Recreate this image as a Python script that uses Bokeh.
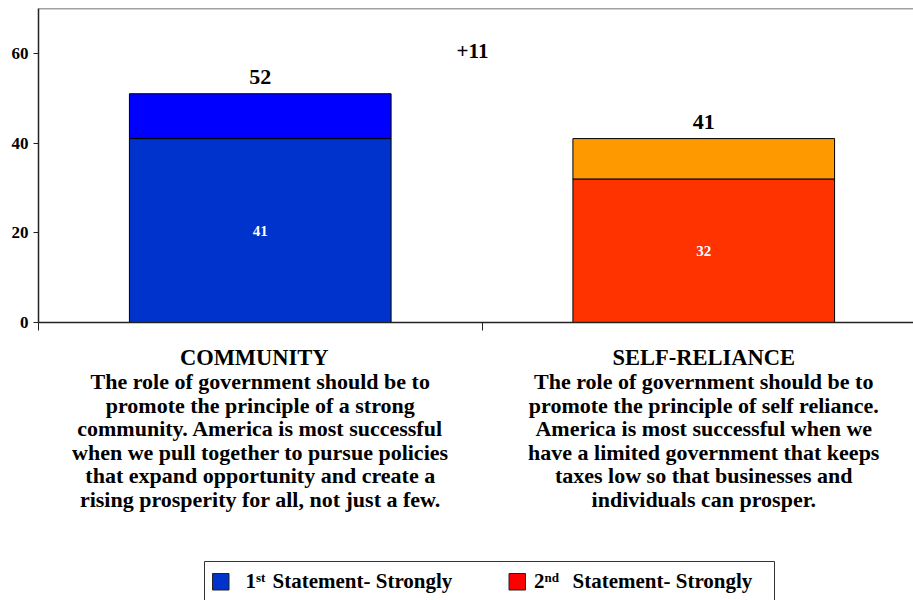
from bokeh.plotting import figure
from bokeh.layouts import column
from bokeh.models import Range1d, FixedTicker, Span, Label, ColumnDataSource
from bokeh.core.properties import value
from bokeh.embed import file_html
from bokeh.resources import INLINE

# ---- data ----
categories = ["COMMUNITY", "SELF-RELIANCE"]
descriptions = [
    ["The role of government should be to",
     "promote the principle of a strong",
     "community. America is most successful",
     "when we pull together to pursue policies",
     "that expand opportunity and create a",
     "rising prosperity for all, not just a few."],
    ["The role of government should be to",
     "promote the principle of self reliance.",
     "America is most successful when we",
     "have a limited government that keeps",
     "taxes low so that businesses and",
     "individuals can prosper."],
]
strongly = [41, 32]          # "strongly" share
total = [51, 41]             # total bar height as drawn
total_shown = [52, 41]       # labels printed above bars
y_ticks = [0, 20, 40, 60]
strong_colors = ["#0033CC", "#FF3300"]
rest_colors = ["#0000FF", "#FF9900"]
legend_nums = ["1", "2"]
legend_sups = ["st", "nd"]
legend_texts = ["Statement- Strongly", "Statement- Strongly"]
legend_colors = ["#0033CC", "#FF0000"]

FONT = "Liberation Serif"
W = 913
H1, H2 = 340, 260
L, T = 38, 8
frame_bottom = 322
B = H1 - frame_bottom
frame_h = frame_bottom - T
y_max = 70
cat_px = 443.5
x_range = Range1d(0, (W - L) / cat_px)

p = figure(width=W, height=H1, output_backend="svg", toolbar_location=None,
           x_range=x_range, y_range=Range1d(0, y_max),
           min_border_left=L, min_border_right=0, min_border_top=T, min_border_bottom=B)
p.outline_line_color = None
p.grid.visible = False

px_per_unit = frame_h / y_max

def sy(screen_y):
    return (frame_bottom - screen_y) / px_per_unit

def sx(screen_x):
    return (screen_x - L) / cat_px

xs = [i + 0.5 for i in range(len(categories))]
src = ColumnDataSource(dict(x=xs, strong=strongly, total=total,
                            sc=strong_colors, rc=rest_colors,
                            mid=[s / 2 for s in strongly],
                            lab_y=[t + 16.5 / px_per_unit for t in total],
                            top_lab=[str(v) for v in total_shown],
                            in_lab=[str(v) for v in strongly]))
p.vbar(x="x", width=0.59, bottom=0, top="strong", fill_color="sc", line_color="black", line_width=1, source=src)
p.vbar(x="x", width=0.59, bottom="strong", top="total", fill_color="rc", line_color="black", line_width=1, source=src)

p.text(x="x", y="lab_y", text="top_lab", source=src, text_font=value(FONT), text_font_style="bold",
       text_font_size="22px", text_color="black", text_align="center", text_baseline="middle")
p.text(x="x", y="mid", text="in_lab", source=src, text_font=value(FONT), text_font_style="bold",
       text_font_size="15px", text_color="white", text_align="center", text_baseline="middle")

diff = total_shown[0] - total_shown[1]
p.add_layout(Label(x=sx(472), y=sy(50), text=f"+{diff}", text_font=FONT, text_font_style="bold",
                   text_font_size="21px", text_color="black", text_align="center", text_baseline="middle"))

# axes
p.yaxis.ticker = FixedTicker(ticks=y_ticks)
p.yaxis.minor_tick_line_color = None
p.yaxis.major_tick_in = 0
p.yaxis.major_tick_out = 5
p.yaxis.axis_line_width = 1.5
p.yaxis.major_label_text_font = FONT
p.yaxis.major_label_text_font_style = "bold"
p.yaxis.major_label_text_font_size = "17px"
p.yaxis.major_label_text_color = "black"
p.yaxis.major_label_standoff = 5

p.xaxis.ticker = FixedTicker(ticks=[0, 1, 2])
p.xaxis.minor_tick_line_color = None
p.xaxis.major_tick_in = 0
p.xaxis.major_tick_out = 8
p.xaxis.axis_line_width = 1.5
p.xaxis.major_label_overrides = {0: "", 1: "", 2: ""}
p.axis.axis_line_color = "#222222"
p.axis.major_tick_line_color = "#222222"

p.add_layout(Span(location=y_max, dimension="width", line_color="#444444", line_width=1.5))

# ---- lower panel: category texts and legend ----
q = figure(width=W, height=H2, output_backend="svg", toolbar_location=None,
           x_range=x_range, y_range=Range1d(0, H2),
           min_border_left=L, min_border_right=0, min_border_top=0, min_border_bottom=0)
q.outline_line_color = None
q.grid.visible = False
q.axis.visible = False

def qy(screen_y):  # window y -> lower panel data y
    return H1 + H2 - screen_y

title_shift = [-6, 0]  # px offset of the heading relative to category centre
tx, ty, tt, ts = [], [], [], []
for i, cat in enumerate(categories):
    tx.append(xs[i] + title_shift[i] / cat_px); ty.append(qy(357)); tt.append(cat); ts.append("22.5px")
    for j, line in enumerate(descriptions[i]):
        tx.append(xs[i]); ty.append(qy(381 + 23.6 * j)); tt.append(line); ts.append("22px")
q.text(x=tx, y=ty, text=tt, text_font_size=ts, text_font=value(FONT), text_font_style="bold",
       text_color="black", text_align="center", text_baseline="middle")

# legend box and entries
q.quad(left=[sx(204)], right=[sx(774)], top=[qy(561)], bottom=[qy(610)],
       fill_color="white", line_color="#333333", line_width=1)
sw_x = [212, 508.5]
num_x = [245, 533.5]
sup_x = [255.5, 544]
txt_x = [272, 572]
q.quad(left=[sx(v) for v in sw_x], right=[sx(v + 16.5) for v in sw_x],
       top=[qy(573)] * 2, bottom=[qy(589.5)] * 2,
       fill_color=legend_colors, line_color="#222222", line_width=1)
q.text(x=[sx(v) for v in num_x], y=[qy(580.5)] * 2, text=legend_nums, text_font=value(FONT),
       text_font_style="bold", text_font_size="21px", text_color="black",
       text_align="left", text_baseline="middle")
q.text(x=[sx(v) for v in sup_x], y=[qy(576.5)] * 2, text=legend_sups, text_font=value(FONT),
       text_font_style="bold", text_font_size="13px", text_color="black",
       text_align="left", text_baseline="middle")
q.text(x=[sx(v) for v in txt_x], y=[qy(580.5)] * 2, text=legend_texts, text_font=value(FONT),
       text_font_style="bold", text_font_size="21px", text_color="black",
       text_align="left", text_baseline="middle")

layout = column(p, q, spacing=0)
open("out.html", "w").write(file_html(layout, INLINE))
